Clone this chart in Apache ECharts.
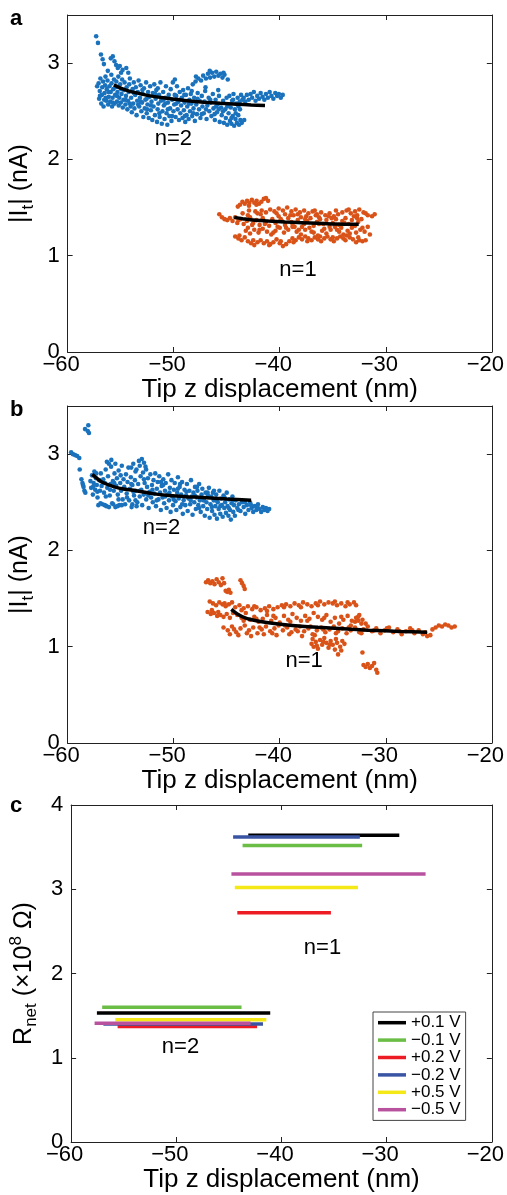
<!DOCTYPE html>
<html><head><meta charset="utf-8">
<script src="https://cdn.jsdelivr.net/npm/echarts@6/dist/echarts.min.js"></script>
<style>html,body{margin:0;padding:0;background:#fff}#c{width:507px;height:1195px}</style>
</head><body><div id="c"></div>
<script>
// ---------- tick labels ----------
const xTicks = [-60, -50, -40, -30, -20];
const yTicksAB = [0, 1, 2, 3];
const yTicksC = [0, 1, 2, 3, 4];

// ---------- panel a : |It| vs tip z (n=2 blue, n=1 orange) ----------
const aBlue = [[-57.31,3.28],[-57.14,3.21],[-56.86,3.09],[-56.7,3.04],[-56.58,2.99],
[-55.93,3.05],[-55.74,3.07],[-55.58,3.02],[-55.43,2.98],[-55.27,2.95],[-55.08,2.97],[-54.82,2.93],[-54.47,2.95],[-54.96,2.9],[-54.28,2.9],[-56.21,2.92],[-55.88,2.88],
[-57.22,2.76],[-57.08,2.79],[-57.03,2.63],[-56.97,2.71],[-56.91,2.84],[-56.83,2.58],[-56.77,2.67],[-56.74,2.75],[-56.66,2.81],[-56.61,2.55],[-56.52,2.69],[-56.47,2.77],[-56.43,2.86],[-56.36,2.61],[-56.31,2.73],[-56.24,2.82],[-56.18,2.57],[-56.12,2.65],[-56.06,2.76],[-55.99,2.6],[-55.94,2.7],[-55.86,2.79],[-55.81,2.55],[-55.76,2.64],[-55.7,2.73],[-55.63,2.83],[-55.57,2.58],[-55.52,2.67],[-55.46,2.75],[-55.41,2.81],[-55.35,2.6],[-55.3,2.7],[-55.22,2.86],[-55.18,2.56],[-55.13,2.64],[-55.05,2.78],[-54.98,2.59],[-54.92,2.68],[-54.86,2.83],[-54.8,2.54],[-54.74,2.62],[-54.69,2.72],[-54.63,2.8],[-54.55,2.57],[-54.5,2.66],[-54.44,2.75],[-54.37,2.52],[-54.31,2.61],[-54.25,2.7],[-54.19,2.78],[-54.13,2.84],[-54.06,2.55],[-54.01,2.64],[-53.95,2.49],[-53.88,2.73],[-53.82,2.58],[-53.76,2.8],[-53.7,2.53],[-53.63,2.67],[-53.57,2.75],[-53.5,2.46],[-53.44,2.61],[-53.38,2.7],[-53.31,2.82],[-53.25,2.55],[-53.18,2.64],[-53.12,2.77],[-53.05,2.5],[-52.98,2.59],[-52.92,2.68],[-52.86,2.44],[-52.8,2.74],[-52.73,2.53],[-52.67,2.62],[-52.6,2.8],[-52.54,2.48],[-52.47,2.57],[-52.41,2.7],[-52.35,2.43],[-52.28,2.65],[-52.22,2.76],[-52.15,2.51],[-52.09,2.6],[-52.02,2.41],[-51.96,2.69],[-51.9,2.55],[-51.83,2.78],[-51.77,2.46],[-51.7,2.63],[-51.64,2.72],[-51.57,2.39],[-51.51,2.52],[-51.45,2.58],[-51.38,2.67],[-51.32,2.44],[-51.25,2.8],[-51.19,2.61],[-51.12,2.37],[-51.06,2.5],[-50.99,2.7],[-50.93,2.56],[-50.86,2.42],[-50.8,2.64],[-50.73,2.76],[-50.67,2.48],[-50.6,2.36],[-50.54,2.59],[-50.47,2.67],[-50.41,2.45],[-50.34,2.53],[-50.28,2.73],[-50.21,2.4],[-50.15,2.62],[-50.08,2.8],[-50.02,2.5],[-49.95,2.57],[-49.89,2.83],[-49.82,2.44],[-49.76,2.66],[-49.69,2.76],[-49.63,2.52],[-49.56,2.6],[-49.5,2.41],[-49.43,2.7],[-49.37,2.48],[-49.3,2.56],[-49.24,2.64],[-49.17,2.43],[-49.11,2.72],[-49.04,2.51],[-48.98,2.59],[-48.91,2.39],[-48.85,2.67],[-48.78,2.46],[-48.72,2.55],[-48.65,2.74],[-48.59,2.42],[-48.52,2.62],[-48.46,2.5],[-48.39,2.68],[-48.33,2.58],[-48.26,2.45],[-48.2,2.78],[-48.13,2.53],[-48.07,2.64],[-48.0,2.4],[-47.94,2.81],[-47.87,2.57],[-47.81,2.47],[-47.74,2.69],[-47.68,2.84],[-47.61,2.52],[-47.55,2.61],[-47.48,2.43],[-47.42,2.82],[-47.35,2.66],[-47.29,2.55],[-47.22,2.87],[-47.16,2.48],[-47.09,2.6],[-47.03,2.71],[-46.96,2.84],[-46.9,2.42],[-46.83,2.56],[-46.77,2.89],[-46.7,2.64],[-46.64,2.5],[-46.57,2.85],[-46.51,2.59],[-46.44,2.45],[-46.38,2.9],[-46.31,2.68],[-46.25,2.53],[-46.18,2.86],[-46.12,2.41],[-46.05,2.62],[-45.99,2.91],[-45.92,2.49],[-45.86,2.57],[-45.79,2.87],[-45.73,2.66],[-45.66,2.39],[-45.6,2.89],[-45.53,2.54],[-45.47,2.46],[-45.4,2.85],[-45.34,2.61],[-45.27,2.38],[-45.21,2.88],[-45.14,2.52],[-45.08,2.43],[-45.01,2.64],[-44.95,2.36],[-44.88,2.57],[-44.82,2.48],[-44.75,2.66],[-44.69,2.4],[-44.62,2.54],[-44.56,2.37],[-44.49,2.61],[-44.43,2.45],[-44.36,2.68],[-44.3,2.35],[-44.23,2.52],[-44.17,2.42],[-44.1,2.58],[-44.04,2.38],[-43.97,2.64],[-43.91,2.46],[-43.84,2.36],[-43.78,2.6],[-43.71,2.41],[-43.65,2.67],[-43.58,2.38],[-43.52,2.62],[-43.4,2.64],[-43.25,2.6],[-43.1,2.67],[-42.92,2.62],[-42.75,2.68],[-42.6,2.64],[-42.44,2.7],[-42.28,2.61],[-42.12,2.66],[-41.95,2.63],[-41.8,2.69],[-41.62,2.65],[-41.45,2.62],[-41.3,2.68],[-41.12,2.64],[-40.95,2.7],[-40.78,2.66],[-40.6,2.63],[-40.42,2.69],[-40.25,2.66],[-40.08,2.68],[-39.9,2.64],[-39.72,2.67],
[-56.95,2.66],[-56.55,2.62],[-56.15,2.7],[-55.75,2.59],[-55.35,2.66],[-54.95,2.73],[-54.55,2.62],[-54.15,2.58],[-53.75,2.69],[-53.35,2.57],[-52.95,2.72],[-52.55,2.63],[-52.15,2.56],[-51.75,2.68],[-51.35,2.48],[-50.95,2.62],[-50.55,2.52],[-50.15,2.45],[-49.75,2.58],[-49.35,2.62],[-48.95,2.45],[-48.55,2.58],[-48.15,2.48],[-47.75,2.63],[-47.35,2.47],[-46.95,2.52],[-46.55,2.62],[-46.15,2.47],[-45.75,2.52],[-45.35,2.5],[-44.95,2.55],[-44.55,2.43],[-44.15,2.48],[-43.75,2.52],[-43.35,2.41],[-47.9,2.86],[-46.6,2.92],[-45.3,2.9],[-44.9,2.83],[-56.4,2.64],[-53.1,2.6],[-51.5,2.74],[-49.9,2.67],[-48.3,2.71],[-47.0,2.75],[-45.8,2.72],[-44.4,2.62],[-52.5,2.52],[-50.8,2.58],[-49.0,2.67],[-46.0,2.55],[-43.9,2.55]];

const aOrange = [[-43.95,1.51],[-43.75,1.53],[-43.52,1.56],[-43.3,1.54],[-43.08,1.57],[-42.86,1.55],[-42.63,1.58],[-42.4,1.55],[-42.18,1.57],[-41.95,1.54],[-41.73,1.56],[-41.5,1.59],[-41.3,1.6],
[-45.7,1.43],[-45.45,1.4],[-45.2,1.38],[-44.95,1.37],[-44.7,1.39],[-44.45,1.36],[-44.2,1.4],
[-42.1,1.44],[-41.7,1.47],[-41.3,1.45],[-40.9,1.48],[-40.5,1.46],[-40.1,1.49],[-39.7,1.47],[-39.3,1.5],[-38.9,1.46],[-38.5,1.48],[-38.1,1.45],[-37.7,1.47],[-37.3,1.44],[-36.9,1.46],[-36.5,1.43],[-36.1,1.45],[-35.7,1.42],[-35.3,1.44],[-34.9,1.41],[-34.5,1.43],[-34.1,1.45],[-33.7,1.47],[-33.3,1.44],[-32.9,1.46],[-32.5,1.48],[-32.1,1.45],[-31.7,1.42],[-31.3,1.41],[-31.05,1.43],[-39.5,1.43],[-38.7,1.42],[-37.5,1.41],[-36.3,1.4],
[-44.0,1.34],[-43.7,1.38],[-43.4,1.33],[-43.1,1.36],[-42.8,1.4],[-42.5,1.34],[-42.2,1.37],[-41.9,1.32],[-41.6,1.39],[-41.3,1.35],[-41.0,1.31],[-40.7,1.38],[-40.4,1.34],[-40.1,1.41],[-39.8,1.36],[-39.5,1.32],[-39.2,1.39],[-38.9,1.35],[-38.6,1.3],[-38.3,1.37],[-38.0,1.4],[-37.7,1.33],[-37.4,1.36],[-37.1,1.39],[-36.8,1.31],[-36.5,1.35],[-36.2,1.38],[-35.9,1.33],[-35.6,1.37],[-35.3,1.3],[-35.0,1.34],[-34.7,1.38],[-34.4,1.32],[-34.1,1.36],[-33.8,1.39],[-33.5,1.33],[-33.2,1.37],[-32.9,1.31],[-32.6,1.35],[-32.3,1.38],
[-43.0,1.42],[-41.8,1.43],[-40.2,1.3],[-39.0,1.42],[-37.9,1.3],[-36.6,1.42],[-35.4,1.41],[-34.2,1.29],[-33.0,1.41],
[-43.2,1.26],[-42.8,1.23],[-42.4,1.27],[-42.0,1.24],[-41.6,1.28],[-41.2,1.25],[-40.8,1.22],[-40.4,1.26],[-40.0,1.29],[-39.6,1.24],[-39.2,1.27],[-38.8,1.3],[-38.4,1.25],[-38.0,1.22],[-37.6,1.27],[-37.2,1.29],[-36.8,1.24],[-36.4,1.21],[-36.0,1.26],[-35.6,1.23],[-35.2,1.27],[-34.8,1.3],[-34.4,1.25],[-34.0,1.22],[-33.6,1.26],[-33.2,1.29],[-32.8,1.24],[-32.4,1.27],[-32.0,1.25],[-31.7,1.3],[-31.5,1.22],
[-44.2,1.2],[-43.9,1.18],[-43.6,1.16],[-43.3,1.19],[-43.0,1.15],[-42.7,1.13],[-42.4,1.11],[-42.1,1.14],[-41.8,1.16],[-41.5,1.13],[-41.2,1.15],[-40.9,1.12],[-40.6,1.14],[-40.3,1.17],[-40.0,1.13],[-39.7,1.1],[-39.4,1.12],[-39.1,1.15],[-38.8,1.18],[-38.5,1.16],[-38.2,1.19],[-37.9,1.17],[-37.6,1.2],[-37.3,1.18],[-37.0,1.16],[-36.7,1.19],[-36.4,1.17],[-36.1,1.15],[-35.8,1.18],[-35.5,1.2],[-35.2,1.17],[-34.9,1.15],[-34.6,1.18],[-34.3,1.2],[-34.0,1.18],[-33.7,1.21],[-33.4,1.19],[-33.1,1.17],[-32.8,1.14],[-32.5,1.16],[-32.2,1.15],[-31.9,1.16],
[-43.5,1.44],[-42.9,1.47],[-42.3,1.46],[-40.3,1.44],[-38.3,1.43],[-36.7,1.47],[-34.7,1.47],[-33.5,1.48],[-32.7,1.42],[-31.9,1.44],
[-43.9,1.37],[-42.6,1.32],[-41.4,1.33],[-39.9,1.38],[-38.8,1.33],[-37.6,1.38],[-36.3,1.33],[-35.1,1.39],[-33.9,1.34],[-32.7,1.39],
[-43.0,1.29],[-41.9,1.27],[-40.6,1.24],[-39.4,1.29],[-38.2,1.27],[-37.0,1.25],[-35.8,1.28],[-34.6,1.27],[-33.4,1.23],[-32.2,1.29],
[-43.8,1.21],[-42.5,1.16],[-41.0,1.11],[-39.9,1.15],[-38.7,1.14],[-37.4,1.15],[-36.2,1.2],[-35.0,1.19],[-33.8,1.16],[-32.6,1.19],[-42.9,1.52],[-42.2,1.53],[-41.1,1.57]];

const aFitBlue = [[-55.64,2.774],[-55.0,2.74],[-54.2,2.71],[-53.4,2.689],[-52.2,2.66],[-51.2,2.643],[-50.28,2.63],[-48.7,2.61],[-47.15,2.595],[-45.6,2.583],[-44.04,2.574],[-42.7,2.566],[-41.39,2.56]];
const aFitOrange = [[-44.29,1.398],[-43.5,1.385],[-42.5,1.37],[-41.07,1.36],[-39.5,1.35],[-37.95,1.343],[-36.4,1.336],[-34.83,1.329],[-33.6,1.327],[-32.55,1.326]];
const aLabels = [['n=2', -50.03, 2.21], ['n=1', -38.28, 0.85]];

// ---------- panel b ----------
const bBlue = [[-58.05,3.3],[-58.36,3.26],[-57.99,3.22],[-58.1,3.24],
[-59.67,3.02],[-59.5,3.0],[-59.3,2.99],[-59.1,2.98],[-58.9,2.96],[-58.86,2.84],
[-58.7,2.74],[-58.6,2.7],[-58.55,2.68],[-58.5,2.66],[-58.42,2.62],[-58.33,2.6],
[-57.85,2.72],[-57.78,2.65],[-57.7,2.78],[-57.62,2.58],[-57.55,2.7],[-57.48,2.82],[-57.4,2.63],[-57.33,2.75],[-57.25,2.68],[-57.18,2.55],[-57.1,2.47],[-57.02,2.73],[-56.95,2.62],[-56.87,2.8],[-56.8,2.67],[-56.72,2.48],[-56.64,2.74],[-56.57,2.6],[-56.49,2.7],[-56.41,2.84],[-56.34,2.46],[-56.26,2.65],[-56.19,2.77],[-56.11,2.9],[-56.03,2.57],[-55.96,2.69],[-55.88,2.94],[-55.8,2.49],[-55.73,2.72],[-55.65,2.62],[-55.58,2.8],[-55.5,2.45],[-55.42,2.67],[-55.35,2.75],[-55.27,2.58],[-55.19,2.83],[-55.12,2.47],[-55.04,2.7],[-54.96,2.62],[-54.89,2.88],[-54.81,2.53],[-54.73,2.74],[-54.66,2.66],[-54.58,2.48],[-54.5,2.79],[-54.43,2.59],[-54.35,2.71],[-54.27,2.86],[-54.2,2.52],[-54.12,2.64],[-54.04,2.76],[-53.97,2.45],[-53.89,2.68],[-53.81,2.9],[-53.74,2.57],[-53.66,2.73],[-53.58,2.62],[-53.51,2.84],[-53.43,2.5],[-53.35,2.69],[-53.28,2.93],[-53.2,2.56],[-53.12,2.77],[-53.05,2.63],[-52.97,2.47],[-52.89,2.81],[-52.82,2.58],[-52.74,2.7],[-52.66,2.87],[-52.59,2.53],[-52.51,2.66],[-52.43,2.75],[-52.36,2.44],[-52.28,2.61],[-52.2,2.79],[-52.13,2.55],[-52.05,2.68],[-51.97,2.5],[-51.9,2.73],[-51.82,2.59],[-51.74,2.8],[-51.67,2.46],[-51.59,2.64],[-51.51,2.71],[-51.44,2.53],[-51.36,2.77],[-51.28,2.6],[-51.21,2.42],[-51.13,2.67],[-51.05,2.55],[-50.98,2.74],[-50.9,2.49],[-50.82,2.62],[-50.75,2.7],[-50.67,2.44],[-50.59,2.58],[-50.52,2.79],[-50.44,2.52],[-50.36,2.65],[-50.29,2.4],[-50.21,2.73],[-50.13,2.56],[-50.06,2.47],[-49.98,2.63],[-49.9,2.7],[-49.83,2.51],[-49.75,2.42],[-49.67,2.6],[-49.6,2.76],[-49.52,2.54],[-49.44,2.66],[-49.37,2.45],[-49.29,2.58],[-49.21,2.71],[-49.14,2.38],[-49.06,2.52],[-48.98,2.63],[-48.91,2.47],[-48.83,2.57],[-48.75,2.69],[-48.68,2.41],[-48.6,2.54],[-48.52,2.62],[-48.45,2.48],[-48.37,2.73],[-48.29,2.56],[-48.22,2.37],[-48.14,2.6],[-48.06,2.5],[-47.99,2.66],[-47.91,2.43],[-47.83,2.55],[-47.76,2.62],[-47.68,2.47],[-47.6,2.69],[-47.53,2.52],[-47.45,2.4],[-47.37,2.58],[-47.3,2.64],[-47.22,2.46],[-47.14,2.54],[-47.07,2.36],[-46.99,2.6],[-46.91,2.5],[-46.84,2.43],[-46.76,2.57],[-46.68,2.65],[-46.61,2.34],[-46.53,2.48],[-46.45,2.56],[-46.38,2.41],[-46.3,2.6],[-46.22,2.52],[-46.15,2.37],[-46.07,2.46],[-45.99,2.58],[-45.92,2.33],[-45.84,2.5],[-45.76,2.43],[-45.69,2.62],[-45.61,2.38],[-45.53,2.54],[-45.46,2.47],[-45.38,2.35],[-45.3,2.57],[-45.23,2.44],[-45.15,2.5],[-45.07,2.39],[-45.0,2.6],[-44.92,2.46],[-44.84,2.36],[-44.77,2.53],[-44.69,2.42],[-44.61,2.32],[-44.54,2.49],[-44.46,2.56],[-44.38,2.4],[-44.31,2.47],[-44.23,2.36],[-44.15,2.52],[-44.0,2.44],[-43.85,2.48],[-43.7,2.41],[-43.55,2.5],[-43.4,2.45],[-43.25,2.38],[-43.1,2.47],[-42.95,2.42],[-42.8,2.5],[-42.65,2.44],[-42.5,2.4],[-42.35,2.46],[-42.2,2.42],[-42.05,2.48],[-41.9,2.43],[-41.75,2.4],[-41.6,2.45],[-41.45,2.42],[-41.3,2.44],[-41.15,2.41],[-41.0,2.43],
[-56.3,2.92],[-55.9,2.87],[-55.5,2.9],[-53.2,2.88],[-53.0,2.95],[-52.8,2.91],[-52.6,2.84],[-54.0,2.86],[-53.6,2.82],
[-56.9,2.49],[-56.5,2.47],[-56.1,2.45],[-55.7,2.48],[-55.3,2.46],[-54.9,2.47],[-53.9,2.48],[-53.5,2.46],
[-57.6,2.66],[-57.2,2.61],[-56.8,2.72],[-56.4,2.56],[-56.0,2.63],[-55.6,2.7],[-55.2,2.53],[-54.8,2.64],[-54.4,2.55],[-54.0,2.69],[-53.6,2.52],[-53.2,2.62],[-52.8,2.74],[-52.4,2.57],[-52.0,2.63],[-51.6,2.52],[-51.2,2.71],[-50.8,2.56],[-50.4,2.6],[-50.0,2.53],[-49.6,2.64],[-49.2,2.48],[-48.8,2.61],[-48.4,2.52],[-48.0,2.57],[-47.6,2.44],[-47.2,2.52],[-46.8,2.6],[-46.4,2.45],[-46.0,2.52],[-45.6,2.46],[-45.2,2.55],[-44.8,2.44],[-44.4,2.52],[-43.9,2.42],[-43.3,2.5],[-42.7,2.47],[-42.1,2.45],[-57.3,2.8],[-55.0,2.78],[-51.0,2.68],[-49.4,2.69],[-47.8,2.66],[-53.8,2.61],[-46.2,2.62]];

const bOrange = [[-46.95,1.67],[-46.75,1.69],[-46.55,1.66],[-46.35,1.68],[-46.15,1.65],[-45.95,1.7],[-45.75,1.67],[-45.55,1.64],[-45.4,1.71],[-45.25,1.66],[-45.1,1.58],[-44.95,1.57],[-44.8,1.59],[-44.65,1.56],[-43.7,1.69],[-43.55,1.66],[-43.4,1.63],[-43.3,1.6],
[-46.6,1.47],[-46.3,1.45],[-46.0,1.43],[-45.7,1.46],[-45.4,1.44],[-45.1,1.42],[-44.8,1.44],[-44.5,1.46],
[-46.8,1.36],[-46.5,1.34],[-46.2,1.35],[-45.9,1.32],[-45.6,1.33],[-45.3,1.31],[-45.0,1.34],[-44.7,1.3],[-44.4,1.35],
[-44.2,1.41],[-43.8,1.43],[-43.4,1.4],[-43.0,1.42],[-42.6,1.39],[-42.2,1.41],[-41.8,1.38],[-41.4,1.4],[-41.0,1.42],[-40.6,1.39],[-40.2,1.41],[-39.8,1.43],[-39.4,1.44],[-39.0,1.42],[-38.6,1.45],[-38.2,1.43],[-37.8,1.46],[-37.4,1.44],[-37.0,1.42],[-36.6,1.45],[-36.2,1.47],[-35.8,1.44],[-35.4,1.46],[-35.0,1.45],[-34.6,1.43],[-34.2,1.45],[-33.8,1.42],[-33.4,1.44],[-33.0,1.46],[-32.8,1.43],
[-44.0,1.33],[-43.6,1.3],[-43.2,1.35],[-42.8,1.28],[-42.4,1.31],[-42.0,1.26],[-41.6,1.29],[-41.2,1.33],[-40.8,1.27],[-40.4,1.3],[-40.0,1.25],[-39.6,1.32],[-39.2,1.28],[-38.8,1.34],[-38.4,1.3],[-38.0,1.27],[-37.6,1.32],[-37.2,1.29],[-36.8,1.35],[-36.4,1.31],[-36.0,1.28],[-35.6,1.33],[-35.2,1.26],[-34.8,1.3],[-34.4,1.24],[-34.0,1.28],[-33.6,1.32],[-33.2,1.27],[-32.8,1.3],[-32.5,1.33],[-32.2,1.28],[-31.9,1.24],
[-45.3,1.2],[-44.9,1.17],[-44.5,1.21],[-44.1,1.15],[-43.7,1.19],[-43.3,1.22],[-42.9,1.17],[-42.5,1.2],[-42.1,1.14],[-41.7,1.18],[-41.3,1.21],[-40.9,1.16],[-40.5,1.19],[-40.1,1.22],[-39.7,1.17],[-39.3,1.2],[-38.9,1.15],[-38.5,1.18],[-38.1,1.21],[-37.7,1.16],[-37.3,1.19],[-36.9,1.13],[-36.5,1.17],[-36.1,1.2],[-35.7,1.15],[-35.3,1.18],[-34.9,1.21],[-34.5,1.16],[-34.1,1.19],[-33.7,1.14],[-33.3,1.17],[-32.9,1.2],[-32.5,1.15],[-32.1,1.18],[-31.7,1.21],[-31.3,1.16],[-30.9,1.19],[-30.5,1.14],[-30.1,1.17],[-29.7,1.2],[-29.3,1.15],[-28.9,1.18],[-28.5,1.13],[-28.1,1.16],[-27.7,1.19],[-27.3,1.14],[-26.9,1.17],[-26.5,1.13],[-26.1,1.11],[-25.8,1.12],
[-44.7,1.13],[-43.9,1.12],[-42.7,1.11],[-41.5,1.13],[-40.3,1.12],[-39.1,1.13],[-37.9,1.11],[-36.7,1.12],
[-25.6,1.18],[-25.3,1.2],[-25.0,1.22],[-24.7,1.21],[-24.4,1.23],[-24.1,1.22],[-23.8,1.2],[-23.5,1.21],
[-37.0,1.03],[-36.8,1.0],[-36.6,1.05],[-36.4,0.98],[-36.2,1.07],[-36.0,1.02],[-35.8,1.09],[-35.6,1.04],[-35.4,0.99],[-35.2,1.06],[-35.0,1.02],[-34.8,0.97],[-34.6,1.04],[-34.5,0.92],[-34.3,1.0],[-34.1,1.06],[-33.9,1.03],
[-32.2,0.94],[-32.1,0.81],[-31.9,0.79],[-31.7,0.82],[-31.5,0.78],[-31.3,0.8],[-31.1,0.83],[-30.9,0.76],[-30.8,0.73],
[-33.3,1.22],[-32.9,1.26],[-32.6,1.31],[-32.3,1.24],
[-43.6,1.38],[-42.4,1.42],[-41.2,1.37],[-39.6,1.41],[-38.0,1.41],[-36.4,1.43],[-34.8,1.47],[-33.6,1.46],
[-43.4,1.27],[-42.2,1.29],[-40.6,1.32],[-39.0,1.26],[-37.4,1.27],[-35.8,1.3],[-34.2,1.31],[-32.6,1.27],
[-44.3,1.18],[-43.1,1.14],[-41.9,1.2],[-40.7,1.14],[-39.5,1.22],[-38.3,1.16],[-37.1,1.21],[-35.9,1.18],[-34.7,1.14],[-33.5,1.2],[-32.3,1.14],[-31.1,1.17],[-29.9,1.19],[-28.7,1.16],[-27.5,1.17],[-26.3,1.15],
[-36.9,1.08],[-36.5,1.01],[-35.9,1.05],[-35.3,1.02],[-34.7,1.08],[-34.2,0.96],[-46.4,1.38],[-45.8,1.36],[-45.2,1.45]];

const bFitBlue = [[-57.68,2.79],[-57.2,2.745],[-56.68,2.705],[-55.6,2.66],[-54.6,2.635],[-53.56,2.62],[-52.0,2.59],[-50.43,2.57],[-48.9,2.558],[-47.3,2.55],[-45.0,2.535],[-42.7,2.52]];
const bFitOrange = [[-44.57,1.387],[-44.0,1.34],[-43.26,1.3],[-42.2,1.27],[-41.07,1.249],[-39.5,1.228],[-37.95,1.213],[-36.4,1.202],[-34.83,1.193],[-33.2,1.182],[-31.7,1.172],[-30.1,1.165],[-28.6,1.158],[-26.1,1.151]];
const bLabels = [['n=2', -51.15, 2.23], ['n=1', -37.7, 0.85]];

// ---------- panel c : R_net segments ----------
const cNames = ['+0.1 V', '\u22120.1 V', '+0.2 V', '\u22120.2 V', '+0.5 V', '\u22120.5 V'];
const cColors = ['#000000', '#6abd45', '#ed1c24', '#3a54a4', '#f4e816', '#b8529f'];
// [xStart, xEnd, R] for n=1 and n=2
const cN1 = [[-43.16, -28.8, 3.64], [-43.7, -32.33, 3.52], [-44.2, -35.3, 2.72], [-44.6, -32.55, 3.62], [-44.44, -32.73, 3.02], [-44.76, -26.3, 3.18]];
const cN2 = [[-57.55, -41.07, 1.53], [-57.05, -43.8, 1.60], [-55.58, -42.32, 1.37], [-56.93, -41.76, 1.40], [-55.8, -41.44, 1.45], [-57.77, -42.94, 1.41]];
const cLabels = [['n=1', -36.1, 2.30], ['n=2', -49.6, 1.13]];

// ---------- build ----------
const FONT = '"Liberation Sans", Arial, Helvetica, sans-serif';
const BLUE = '#1a72bd', ORANGE = '#d95319', AXC = '#222';
const tops = [15, 406, 805], H = 337;
const fmtNum = v => String(v).replace('-', '\u2212');

const grids = tops.map(t => ({left: 64, top: t, width: 428, height: H}));
const xAxes = [], yAxes = [];
const yNameAB = '{r||I}{s|t}{r|| (nA)}';
const yNameC = '{r|R}{s|net}{r| (\u00d710}{p|8}{r| \u03a9)}';
const rich = {
  r: {fontSize: 25, fontFamily: FONT, color: '#000', lineHeight: 32},
  s: {fontSize: 17, fontFamily: FONT, color: '#000', lineHeight: 17, verticalAlign: 'bottom'},
  p: {fontSize: 17, fontFamily: FONT, color: '#000', lineHeight: 21, verticalAlign: 'top'}
};
tops.forEach((t, i) => {
  const ymax = i < 2 ? 3.5 : 4;
  const yt = i < 2 ? yTicksAB : yTicksC;
  xAxes.push({
    gridIndex: i, type: 'value', min: xTicks[0], max: xTicks[xTicks.length - 1], interval: 10, position: 'bottom',
    axisLine: {show: true, onZero: false, lineStyle: {color: AXC, width: 1}},
    axisTick: {inside: true, length: 5, lineStyle: {color: AXC}},
    axisLabel: {fontSize: 22, color: '#000', fontFamily: FONT, margin: 2, padding: [0, 13, 0, 0],
      formatter: v => xTicks.includes(v) ? fmtNum(v) : ''},
    splitLine: {show: false},
    name: 'Tip z displacement (nm)', nameLocation: 'middle', nameGap: 21,
    nameTextStyle: {fontSize: 26, color: '#000', fontFamily: FONT}
  });
  xAxes.push({
    gridIndex: i, type: 'value', min: xTicks[0], max: xTicks[xTicks.length - 1], interval: 10, position: 'top',
    axisLine: {show: true, onZero: false, lineStyle: {color: AXC, width: 1}},
    axisTick: {inside: true, length: 5, lineStyle: {color: AXC}},
    axisLabel: {show: false}, splitLine: {show: false}
  });
  yAxes.push({
    gridIndex: i, type: 'value', min: 0, max: ymax, interval: 1, position: 'left',
    axisLine: {show: true, onZero: false, lineStyle: {color: AXC, width: 1}},
    axisTick: {inside: true, length: 5, lineStyle: {color: AXC}},
    axisLabel: {fontSize: 22, color: '#000', fontFamily: FONT, margin: 8,
      formatter: v => yt.includes(v) ? String(v) : ''},
    splitLine: {show: false},
    name: i < 2 ? yNameAB : yNameC, nameLocation: 'middle', nameGap: i < 2 ? 17 : 24, nameRotate: 90,
    nameTextStyle: {rich: rich}
  });
  yAxes.push({
    gridIndex: i, type: 'value', min: 0, max: ymax, interval: 1, position: 'right',
    axisLine: {show: true, onZero: false, lineStyle: {color: AXC, width: 1}},
    axisTick: {inside: true, length: 5, lineStyle: {color: AXC}},
    axisLabel: {show: false}, splitLine: {show: false}
  });
});

const series = [];
function scat(data, color, i) {
  series.push({type: 'scatter', xAxisIndex: 2 * i, yAxisIndex: 2 * i, data: data, symbolSize: 4.6,
    itemStyle: {color: color, opacity: 1}, silent: true});
}
function fit(data, i) {
  series.push({type: 'line', xAxisIndex: 2 * i, yAxisIndex: 2 * i, data: data, symbol: 'none', smooth: 0.3,
    lineStyle: {color: '#000', width: 3.5}, silent: true, z: 5});
}
function labels(arr, i) {
  series.push({type: 'scatter', xAxisIndex: 2 * i, yAxisIndex: 2 * i, symbolSize: 1, silent: true, z: 6,
    itemStyle: {color: 'rgba(0,0,0,0)'},
    data: arr.map(l => ({name: l[0], value: [l[1], l[2]]})),
    label: {show: true, position: 'inside', formatter: p => p.name, fontSize: 22, color: '#000', opacity: 1, fontFamily: FONT}});
}
scat(aBlue, BLUE, 0); scat(aOrange, ORANGE, 0); fit(aFitBlue, 0); fit(aFitOrange, 0); labels(aLabels, 0);
scat(bBlue, BLUE, 1); scat(bOrange, ORANGE, 1); fit(bFitBlue, 1); fit(bFitOrange, 1); labels(bLabels, 1);
[cN1, cN2].forEach(group => {
  group.forEach((seg, k) => {
    series.push({type: 'line', name: cNames[k], xAxisIndex: 4, yAxisIndex: 4, symbol: 'none',
      data: [[seg[0], seg[2]], [seg[1], seg[2]]],
      lineStyle: {color: cColors[k], width: 3.5}, itemStyle: {color: cColors[k]}, silent: true});
  });
});
labels(cLabels, 2);

const chart = echarts.init(document.getElementById('c'), null, {renderer: 'canvas'});
chart.setOption({
  animation: false,
  backgroundColor: '#fff',
  grid: grids, xAxis: xAxes, yAxis: yAxes, series: series,
  legend: {
    data: cNames, orient: 'vertical', left: 373, top: 1012, icon: 'rect', itemWidth: 28, itemHeight: 3.5,
    itemGap: 0, padding: [2, 5, 2, 5], borderColor: '#444', borderWidth: 1, selectedMode: false,
    textStyle: {fontSize: 17, color: '#000', fontFamily: FONT, lineHeight: 17.4}
  },
  graphic: [
    {type: 'text', left: 10, top: 8, style: {text: 'a', font: 'bold 22px ' + FONT, fill: '#000'}},
    {type: 'text', left: 10, top: 399, style: {text: 'b', font: 'bold 22px ' + FONT, fill: '#000'}},
    {type: 'text', left: 10, top: 795, style: {text: 'c', font: 'bold 22px ' + FONT, fill: '#000'}}
  ]
});
</script></body></html>
